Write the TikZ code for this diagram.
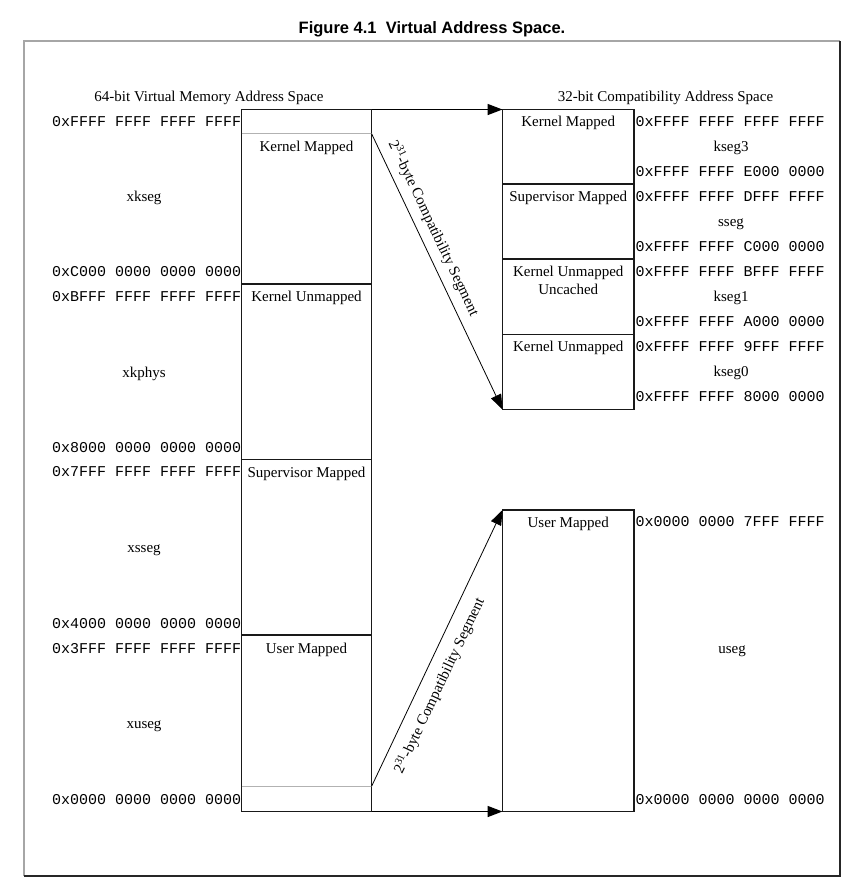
\documentclass[tikz,border=0pt]{standalone}
\usepackage{fontspec}
\setmainfont{Liberation Serif}
\setmonofont{Liberation Mono}
\newfontfamily\titlefont{Liberation Sans}
\usetikzlibrary{arrows.meta}
\tikzset{
  txt/.style={font=\fontsize{15}{18}\selectfont, inner sep=0pt, anchor=base},
  addr/.style={font=\ttfamily\fontsize{15}{18}\selectfont, inner sep=0pt, anchor=base west},
  segbox/.style={draw=black!90, line width=1.8pt, inner sep=0pt, outer sep=0pt},
  divline/.style={draw=black!90, line width=1.8pt},
  greyline/.style={draw=black!30, line width=1pt},
  arr/.style={draw=black, line width=0.8pt, -{Triangle[length=15pt,width=11pt]}},
  harr/.style={arr, line width=1.6pt},
  seglabel/.style={font=\fontsize{15}{18}\selectfont, sloped}
}
\begin{document}
\begin{tikzpicture}[x=1pt,y=-1pt]
\useasboundingbox (0,0) rectangle (863,892);
\fill[white] (0,0) rectangle (863,892);
% title
\node[font=\titlefont\bfseries\fontsize{16.5}{20}\selectfont, anchor=base, inner sep=0pt] (title) at (432,33.3) {Figure 4.1\ \ Virtual Address Space.};
% frame
\draw[black!35, line width=1.2pt] (24,876) -- (24,41) -- (840,41);
\draw[black!85, line width=1.8pt] (840,41) -- (840,876) -- (24,876);
% headings
\node[txt] (h64) at (209,101.5) {64-bit Virtual Memory Address Space};
\node[txt] (h32) at (665.5,101.5) {32-bit Compatibility Address Space};
% left column
\node[segbox, minimum width=130pt, minimum height=702pt] (L) at (306.5,460.5) {};
\draw[greyline] (241.5,133.5) -- (371.5,133.5);
\draw[divline] (241.5,284) -- (371.5,284);
\draw[divline] (241.5,459.5) -- (371.5,459.5);
\draw[divline] (241.5,635) -- (371.5,635);
\draw[greyline] (241.5,786.5) -- (371.5,786.5);
\coordinate (LG1) at (371.5,133.5);
\coordinate (LG2) at (371.5,786.5);
% right columns
\node[segbox, minimum width=131.5pt, minimum height=300pt] (K) at (568.25,259.5) {};
\draw[divline] (502.5,184) -- (634,184);
\draw[divline] (502.5,259) -- (634,259);
\draw[divline] (502.5,334.5) -- (634,334.5);
\node[segbox, minimum width=131.5pt, minimum height=301.5pt] (U) at (568.25,660.75) {};
% left addresses
\node[addr] (la1) at (52,126.7) {0xFFFF FFFF FFFF FFFF};
\node[addr] (la2) at (52,276.7) {0xC000 0000 0000 0000};
\node[addr] (la3) at (52,301.7) {0xBFFF FFFF FFFF FFFF};
\node[addr] (la4) at (52,452.7) {0x8000 0000 0000 0000};
\node[addr] (la5) at (52,476.7) {0x7FFF FFFF FFFF FFFF};
\node[addr] (la6) at (52,628) {0x4000 0000 0000 0000};
\node[addr] (la7) at (52,653) {0x3FFF FFFF FFFF FFFF};
\node[addr] (la8) at (52,804) {0x0000 0000 0000 0000};
% left names
\node[txt] (n1) at (144,201.7) {xkseg};
\node[txt] (n2) at (144,377) {xkphys};
\node[txt] (n3) at (144,552) {xsseg};
\node[txt] (n4) at (144,728.5) {xuseg};
% left box labels
\node[txt] (lb1) at (306.5,151.7) {Kernel Mapped};
\node[txt] (lb2) at (306.5,301.7) {Kernel Unmapped};
\node[txt] (lb3) at (306.5,477) {Supervisor Mapped};
\node[txt] (lb4) at (306.5,653) {User Mapped};
% right box labels
\node[txt] (rb1) at (568.25,126) {Kernel Mapped};
\node[txt] (rb2) at (568.25,201) {Supervisor Mapped};
\node[txt] (rb3) at (568.25,276) {Kernel Unmapped};
\node[txt] (rb3b) at (568.25,294) {Uncached};
\node[txt] (rb4) at (568.25,351.5) {Kernel Unmapped};
\node[txt] (rb5) at (568.25,527) {User Mapped};
% right addresses
\node[addr] (ra1) at (635.5,126) {0xFFFF FFFF FFFF FFFF};
\node[addr] (ra2) at (635.5,176) {0xFFFF FFFF E000 0000};
\node[addr] (ra3) at (635.5,201) {0xFFFF FFFF DFFF FFFF};
\node[addr] (ra4) at (635.5,251) {0xFFFF FFFF C000 0000};
\node[addr] (ra5) at (635.5,276) {0xFFFF FFFF BFFF FFFF};
\node[addr] (ra6) at (635.5,326) {0xFFFF FFFF A000 0000};
\node[addr] (ra7) at (635.5,351.5) {0xFFFF FFFF 9FFF FFFF};
\node[addr] (ra8) at (635.5,401.5) {0xFFFF FFFF 8000 0000};
\node[addr] (ra9) at (635.5,526.7) {0x0000 0000 7FFF FFFF};
\node[addr] (ra10) at (635.5,804) {0x0000 0000 0000 0000};
% right names
\node[txt] (k3) at (731,151) {kseg3};
\node[txt] (ss) at (731,226) {sseg};
\node[txt] (k1) at (731,301) {kseg1};
\node[txt] (k0) at (731,376.5) {kseg0};
\node[txt] (us) at (732,653) {useg};
% connectors
\draw[harr] (L.north east) -- (K.north west);
\draw[arr] (LG1) -- node[seglabel, pos=0.367, above, inner sep=7.5pt] (c1) {2\textsuperscript{31}-byte Compatibility Segment} (K.south west);
\draw[arr] (LG2) -- node[seglabel, pos=0.392, below, inner sep=10pt] (c2) {2\textsuperscript{31}-byte Compatibility Segment} (U.north west);
\draw[harr] (L.south east) -- (U.south west);
\end{tikzpicture}
\end{document}
